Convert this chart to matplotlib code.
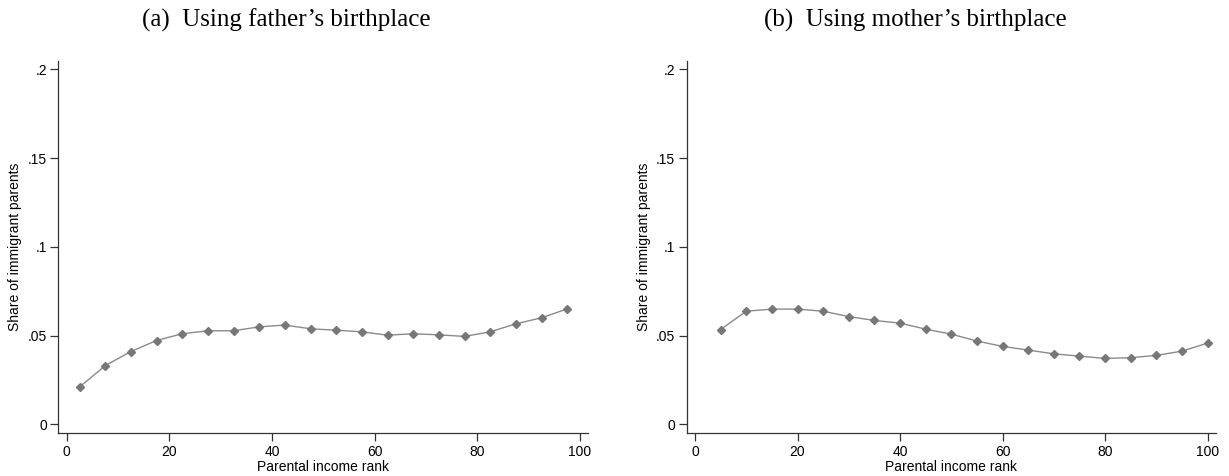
import numpy as np
import matplotlib
matplotlib.use("Agg")
import matplotlib.pyplot as plt

# Share of immigrant parents by parental income rank (binned)
rank_father = [2.5, 7.5, 12.5, 17.5, 22.5, 27.5, 32.5, 37.5, 42.5, 47.5,
               52.5, 57.5, 62.5, 67.5, 72.5, 77.5, 82.5, 87.5, 92.5, 97.5]
share_father = [0.0210, 0.0330, 0.0410, 0.0472, 0.0510, 0.0527, 0.0527, 0.0549, 0.0559, 0.0538,
                0.0530, 0.0521, 0.0502, 0.0510, 0.0504, 0.0495, 0.0521, 0.0566, 0.0600, 0.0650]

rank_mother = [5, 10, 15, 20, 25, 30, 35, 40, 45, 50,
               55, 60, 65, 70, 75, 80, 85, 90, 95, 100]
share_mother = [0.0534, 0.0637, 0.0649, 0.0649, 0.0637, 0.0607, 0.0585, 0.0570, 0.0536, 0.0508,
                0.0469, 0.0439, 0.0418, 0.0397, 0.0384, 0.0371, 0.0375, 0.0388, 0.0412, 0.0457]

titles = ["(a)  Using father\u2019s birthplace", "(b)  Using mother\u2019s birthplace"]
xticks = [0, 20, 40, 60, 80, 100]
yticks = [0, 0.05, 0.1, 0.15, 0.2]
ytick_labels = ["0", ".05", ".1", ".15", ".2"]

plt.rcParams['font.family'] = ['Liberation Sans', 'DejaVu Sans']

fig = plt.figure(figsize=(12.29, 4.76), dpi=100)
W, H = 1229, 476

# (x data, y data, left spine px, right end px, xlim, title centre px)
panels = [
    (rank_father, share_father, 58.3, 587.7, (-1.64, 101.5), 286.5),
    (rank_mother, share_mother, 686.7, 1215.7, (-1.62, 101.6), 915),
]

for i, (x, y, left_px, right_px, xlim, title_x) in enumerate(panels):
    ax = fig.add_axes([left_px / W, 1 - 433.3 / H, (right_px - left_px) / W, (433.3 - 60.7) / H])
    ax.plot(x, y, color='#8a8a8a', lw=1.0, marker='D', markersize=3.8,
            markerfacecolor='#777777', markeredgecolor='#777777')
    ax.set_xlim(*xlim)
    ax.set_ylim(-0.0051, 0.2049)
    ax.set_xticks(xticks)
    ax.set_yticks(yticks)
    ax.set_yticklabels(ytick_labels)
    ax.spines['top'].set_visible(False)
    ax.spines['right'].set_visible(False)
    for s in ['left', 'bottom']:
        ax.spines[s].set_linewidth(0.9)
        ax.spines[s].set_color('#333333')
    ax.tick_params(direction='out', length=5.5, width=0.9, labelsize=10, pad=2.7, color='#333333')
    ax.set_xlabel("Parental income rank", fontsize=10, labelpad=1)
    ax.set_ylabel("Share of immigrant parents", fontsize=10)
    # label centre sits about 42 px left of the spine
    label_px = left_px - 42 + 6
    ax.yaxis.set_label_coords((label_px - left_px) / (right_px - left_px),
                              (433.3 - 247) / (433.3 - 60.7))
    fig.text(title_x / W, 1 - 20 / H, titles[i], ha='center', va='center',
             fontsize=18, family=['Liberation Serif', 'DejaVu Serif'])

fig.savefig("out.png", dpi=100, facecolor='white')
